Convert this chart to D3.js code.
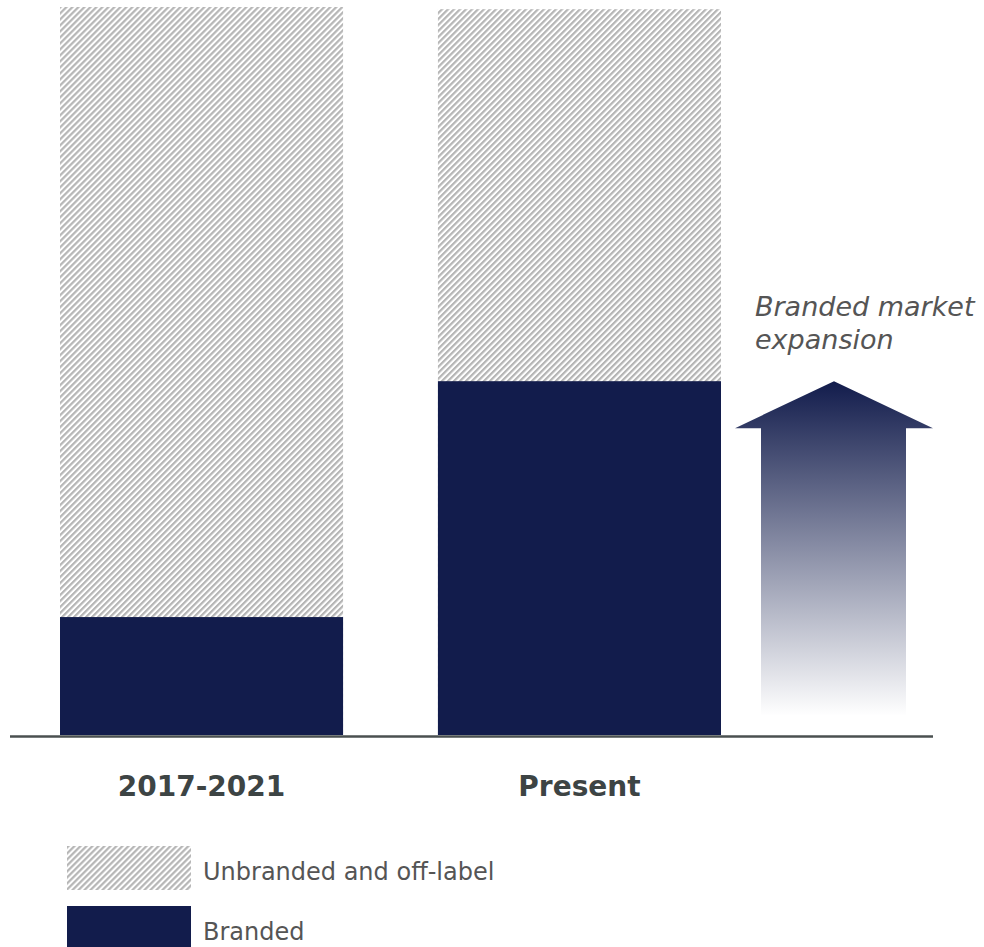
<!DOCTYPE html>
<html>
<head>
<meta charset="utf-8">
<script src="https://cdn.jsdelivr.net/npm/d3@7"></script>
<style>
  body { margin: 0; background: #fff; }
  svg { display: block; font-family: "DejaVu Sans", sans-serif; }
</style>
</head>
<body>
<svg id="chart" width="984" height="947"></svg>
<script>
const categories = ["2017-2021", "Present"];
const totalValues = [100, 99.7];
const brandedValues = [16.2, 48.6];
const arrowRange = [2.6, 48.6];
const legendLabels = ["Unbranded and off-label", "Branded"];

const navy = "#121c4c";
const svg = d3.select("#chart");

// scales
const x = d3.scaleBand().domain(categories).range([60, 721]).paddingInner(0.251).paddingOuter(0);
const y = d3.scaleLinear().domain([0, 100]).range([735, 7]);

const defs = svg.append("defs");
const pat = defs.append("pattern")
  .attr("id", "hatch")
  .attr("patternUnits", "userSpaceOnUse")
  .attr("width", 4.24).attr("height", 4.24)
  .attr("patternTransform", "rotate(45)");
pat.append("rect").attr("width", 4.24).attr("height", 4.24).attr("fill", "#fff");
pat.append("rect").attr("width", 2.2).attr("height", 4.24).attr("fill", "#b5b5b5");

const grad = defs.append("linearGradient")
  .attr("id", "arrowGrad").attr("x1", 0).attr("y1", 0).attr("x2", 0).attr("y2", 1);
grad.append("stop").attr("offset", "0%").attr("stop-color", navy).attr("stop-opacity", 1);
grad.append("stop").attr("offset", "100%").attr("stop-color", navy).attr("stop-opacity", 0);

// stacked bars: hatched total, then branded on top
svg.selectAll(".total").data(categories).enter().append("rect")
  .attr("x", d => x(d))
  .attr("y", (d, i) => y(totalValues[i]))
  .attr("width", x.bandwidth())
  .attr("height", (d, i) => y(0) - y(totalValues[i]))
  .attr("fill", "url(#hatch)");

svg.selectAll(".branded").data(categories).enter().append("rect")
  .attr("x", d => x(d))
  .attr("y", (d, i) => y(brandedValues[i]))
  .attr("width", x.bandwidth())
  .attr("height", (d, i) => y(0) - y(brandedValues[i]))
  .attr("fill", navy);

// baseline
svg.append("line")
  .attr("x1", 10).attr("x2", 933)
  .attr("y1", y(0) + 1.5).attr("y2", y(0) + 1.5)
  .attr("stroke", "#4a5050").attr("stroke-width", 2.5);

// category labels
svg.selectAll(".cat").data(categories).enter().append("text")
  .attr("x", d => x(d) + x.bandwidth() / 2)
  .attr("y", 796)
  .attr("text-anchor", "middle")
  .attr("font-size", 28)
  .attr("font-weight", "bold")
  .attr("fill", "#3d4444")
  .text(d => d);

// expansion arrow
const ax = x("Present") + x.bandwidth() + 14;
const headL = ax, headR = ax + 198, shaftL = ax + 26, shaftR = ax + 171;
const tipY = y(arrowRange[1]), headBase = tipY + 47, bottom = y(arrowRange[0]);
const mid = (headL + headR) / 2;
svg.append("path")
  .attr("d", `M${mid},${tipY} L${headR},${headBase} L${shaftR},${headBase} L${shaftR},${bottom} L${shaftL},${bottom} L${shaftL},${headBase} L${headL},${headBase} Z`)
  .attr("fill", "url(#arrowGrad)");

const note = svg.append("text")
  .attr("x", 755).attr("y", 316)
  .attr("font-size", 27)
  .attr("font-style", "italic")
  .attr("fill", "#555");
note.append("tspan").attr("x", 755).text("Branded market");
note.append("tspan").attr("x", 755).attr("dy", 33).text("expansion");

// legend
const legend = svg.append("g").attr("transform", "translate(67,846)");
const fills = ["url(#hatch)", navy];
legendLabels.forEach((lab, i) => {
  legend.append("rect")
    .attr("x", 0).attr("y", i * 60)
    .attr("width", 124).attr("height", 44)
    .attr("fill", fills[i]);
  legend.append("text")
    .attr("x", 136).attr("y", i * 60 + 34)
    .attr("font-size", 24)
    .attr("fill", "#555")
    .text(lab);
});
</script>
</body>
</html>
